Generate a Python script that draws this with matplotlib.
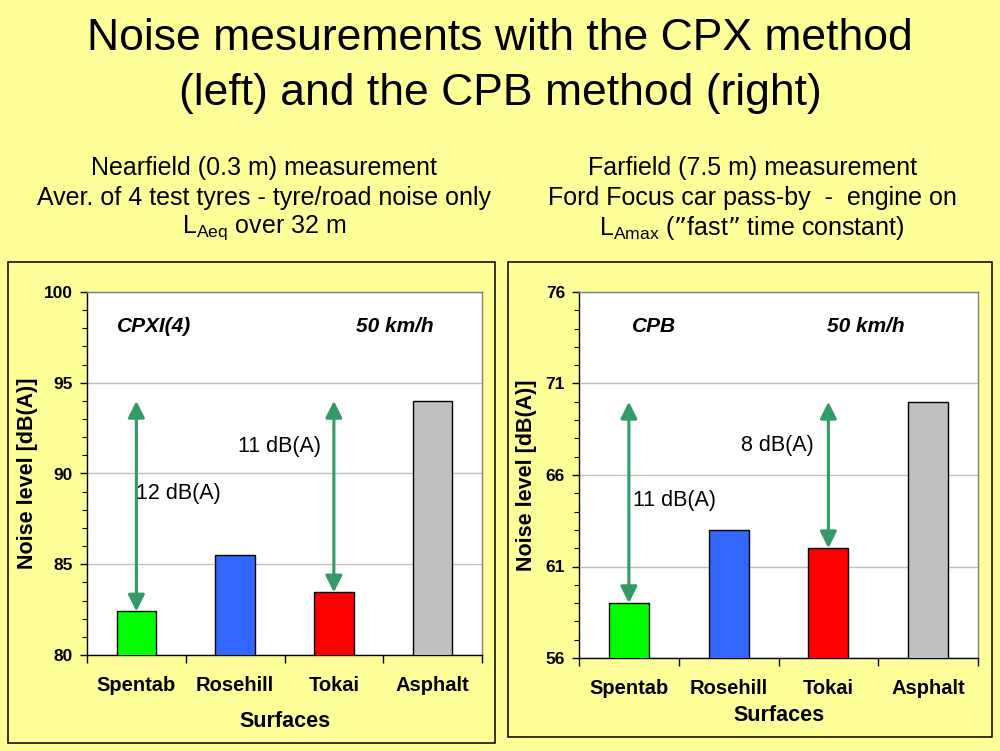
import matplotlib
matplotlib.use("agg")
import matplotlib.pyplot as plt
from matplotlib.patches import Rectangle
from matplotlib.ticker import FixedLocator

plt.rcParams["font.family"] = ["Liberation Sans", "DejaVu Sans"]
plt.rcParams["mathtext.default"] = "regular"

BG = "#FFFF99"
ARROW = "#339966"

surfaces = ["Spentab", "Rosehill", "Tokai", "Asphalt"]
bar_colors = ["#00FF00", "#3366FF", "#FF0000", "#C0C0C0"]

cpx_levels = [82.4, 85.5, 83.45, 94.0]
cpb_levels = [59.0, 63.0, 62.0, 70.0]

cpx_diffs = ["12 dB(A)", "11 dB(A)"]
cpb_diffs = ["11 dB(A)", "8 dB(A)"]

title = "Noise mesurements with the CPX method\n(left) and the CPB method (right)"
left_sub = ["Nearfield (0.3 m) measurement",
            "Aver. of 4 test tyres - tyre/road noise only",
            "$L_{Aeq}$ over 32 m"]
right_sub = ["Farfield (7.5 m) measurement",
             "Ford Focus car pass-by  -  engine on",
             "$L_{Amax}$ (\u201dfast\u201d time constant)"]

fig = plt.figure(figsize=(10, 7.51), dpi=100)
fig.patch.set_facecolor(BG)

fig.text(0.5, 1 - 38 / 751, title.split("\n")[0], ha="center", va="center", fontsize=32)
fig.text(0.5, 1 - 93 / 751, title.split("\n")[1], ha="center", va="center", fontsize=32)

for i, line in enumerate(left_sub):
    fig.text(0.264, 1 - (168 + 30 * i) / 751, line, ha="center", va="center", fontsize=18)
for i, line in enumerate(right_sub):
    fig.text(0.752, 1 - (168 + 30 * i) / 751, line, ha="center", va="center", fontsize=18)

# panel frames, behind the axes
fig.patches.append(Rectangle((0.008, 8 / 751), 0.487, 481 / 751, transform=fig.transFigure,
                             facecolor=BG, edgecolor="black", linewidth=1.1, zorder=-5))
fig.patches.append(Rectangle((0.508, 14 / 751), 0.484, 475 / 751, transform=fig.transFigure,
                             facecolor=BG, edgecolor="black", linewidth=1.1, zorder=-5))


def panel(rect, levels, ymin, diffs, diff_pos, method, method_pos, speed_pos, ylab_x, xlab_y):
    ax = fig.add_axes(rect)
    ax.set_facecolor("white")
    x = range(len(surfaces))
    ax.bar(x, levels, width=0.4, bottom=0, color=bar_colors, edgecolor="black",
           linewidth=1.0, zorder=3)
    ax.set_xlim(-0.5, 3.5)
    ax.set_ylim(ymin, ymin + 20)

    yt = list(range(ymin, ymin + 21, 5))
    ax.set_yticks(yt, labels=[str(v) for v in yt], fontsize=12.5, fontweight="bold")
    ax.yaxis.set_minor_locator(FixedLocator(list(range(ymin, ymin + 21))))
    ax.yaxis.grid(True, which="major", color="#C0C0C0", linewidth=1.0, zorder=0)
    ax.set_axisbelow(True)
    ax.tick_params(axis="y", which="major", direction="out", length=5, width=1, pad=5)
    ax.tick_params(axis="y", which="minor", direction="out", length=3.5, width=0.8)

    ax.xaxis.set_major_locator(FixedLocator([-0.5, 0.5, 1.5, 2.5, 3.5]))
    ax.xaxis.set_minor_locator(FixedLocator(list(x)))
    ax.set_xticklabels([])
    ax.set_xticklabels(surfaces, minor=True, fontsize=14.5, fontweight="bold")
    ax.tick_params(axis="x", which="major", direction="out", length=6, width=1)
    ax.tick_params(axis="x", which="minor", length=0, pad=15)

    for s in ["left", "bottom"]:
        ax.spines[s].set_color("black")
        ax.spines[s].set_linewidth(1.0)
    for s in ["top", "right"]:
        ax.spines[s].set_color("#808080")
        ax.spines[s].set_linewidth(1.0)

    ax.set_ylabel("Noise level [dB(A)]", fontsize=15.5, fontweight="bold")
    ax.yaxis.set_label_coords(ylab_x, 0.5)
    ax.set_xlabel("Surfaces", fontsize=15.5, fontweight="bold")
    ax.xaxis.set_label_coords(0.5, xlab_y)

    top = levels[3]
    for k, idx in enumerate([0, 2]):
        ax.annotate("", xy=(idx, levels[idx]), xytext=(idx, top),
                    arrowprops=dict(arrowstyle="<|-|>,head_length=0.5,head_width=0.25",
                                    mutation_scale=20, color=ARROW, lw=2.2,
                                    shrinkA=0, shrinkB=0), zorder=5)
        ax.text(diff_pos[k][0], diff_pos[k][1], diffs[k], ha="left", va="center",
                fontsize=15.5, zorder=6)

    ax.text(method_pos[0], method_pos[1], method, ha="left", va="center",
            fontsize=15, fontweight="bold", style="italic")
    ax.text(speed_pos[0], speed_pos[1], "50 km/h", ha="left", va="center",
            fontsize=15, fontweight="bold", style="italic")
    return ax


panel([0.087, 96 / 751, 0.395, 363 / 751], cpx_levels, 80, cpx_diffs,
      [(0.0, 88.9), (1.03, 91.5)], "CPXI(4)", (-0.2, 98.1), (2.22, 98.1), -0.124, -0.154)
panel([0.579, 93 / 751, 0.399, 366 / 751], cpb_levels, 56, cpb_diffs,
      [(0.04, 64.6), (1.12, 67.6)], "CPB", (0.03, 74.1), (1.99, 74.1), -0.105, -0.128)

fig.savefig("out.png", dpi=100, facecolor=BG)
